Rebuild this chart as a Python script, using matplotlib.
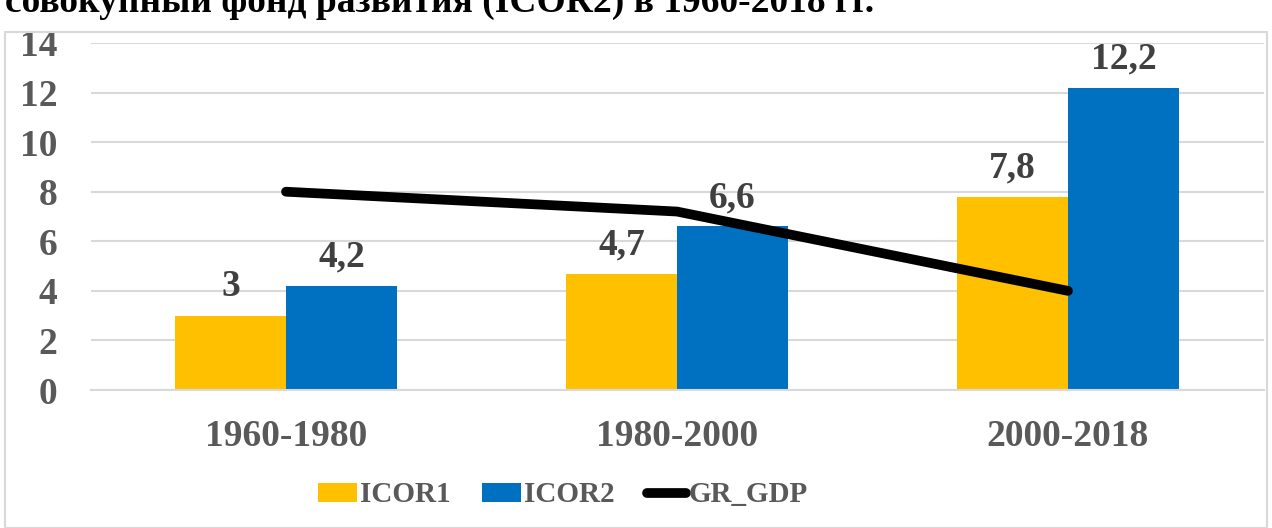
import matplotlib
matplotlib.use('Agg')
import matplotlib.pyplot as plt
import numpy as np
from matplotlib.patches import Rectangle

# Dados do gráfico
periodos = ['1960-1980', '1980-2000', '2000-2018']
icor1 = [3, 4.7, 7.8]
icor2 = [4.2, 6.6, 12.2]
gr_gdp = [8, 7.2, 4]
rotulos_icor1 = ['3', '4,7', '7,8']
rotulos_icor2 = ['4,2', '6,6', '12,2']
titulo = 'совокупный фонд развития (ICOR2) в 1960-2018 гг.'

cor_icor1 = '#ffc000'
cor_icor2 = '#0070c0'
cor_texto = '#595959'
fonte = 'Liberation Serif'
tam = 27

fig = plt.figure(figsize=(12.72, 5.28), dpi=100)

# moldura do gráfico
fig.patches.append(Rectangle((5 / 1272, 0), 1262 / 1272, 1 - 32 / 528,
                             transform=fig.transFigure, fill=False,
                             edgecolor='#d9d9d9', lw=1.5))

# título cortado no topo
fig.text(5 / 1272, 1 - 12 / 528, titulo, fontsize=27, fontweight='bold',
         family=fonte, color='black', ha='left', va='baseline')

ax = fig.add_axes([90.5 / 1272, 1 - 390 / 528, 1173 / 1272, 347 / 528])

x = np.arange(len(periodos))
largura = 0.284

b1 = ax.bar(x - largura / 2, icor1, largura, color=cor_icor1, label='ICOR1', zorder=2)
b2 = ax.bar(x + largura / 2, icor2, largura, color=cor_icor2, label='ICOR2', zorder=2)
ln, = ax.plot(x, gr_gdp, color='black', lw=7, solid_capstyle='round',
              label='GR_GDP', zorder=3)

for rects, rotulos in ((b1, rotulos_icor1), (b2, rotulos_icor2)):
    for r, txt in zip(rects, rotulos):
        ax.text(r.get_x() + r.get_width() / 2, r.get_height() + 0.45, txt,
                ha='center', va='bottom', fontsize=tam, fontweight='bold',
                family=fonte, color='#404040', zorder=4)

ax.set_xlim(-0.5, 2.5)
ax.set_ylim(0, 14)
ax.set_yticks(range(0, 15, 2))
ax.set_xticks(x)
ax.set_xticklabels(periodos)
for lab in ax.get_xticklabels() + ax.get_yticklabels():
    lab.set_family(fonte)
    lab.set_fontweight('bold')
    lab.set_fontsize(tam)
    lab.set_color(cor_texto)

ax.tick_params(axis='both', length=0)
ax.tick_params(axis='y', pad=24)
ax.tick_params(axis='x', pad=21)
ax.grid(axis='y', color='#d9d9d9', lw=1.5, zorder=0)
for lado in ['top', 'right', 'left']:
    ax.spines[lado].set_visible(False)
ax.spines['bottom'].set_color('#d9d9d9')
ax.spines['bottom'].set_linewidth(1.5)

leg = fig.legend(handles=[b1, b2, ln], loc='center',
                 bbox_to_anchor=(563 / 1272, 1 - 495 / 528), ncol=3, frameon=False,
                 prop={'family': fonte, 'weight': 'bold', 'size': 21},
                 handlelength=1.34, handleheight=0.65, handletextpad=0.1,
                 columnspacing=1.1)
for t in leg.get_texts():
    t.set_color(cor_texto)

plt.savefig('out.png', dpi=100)
